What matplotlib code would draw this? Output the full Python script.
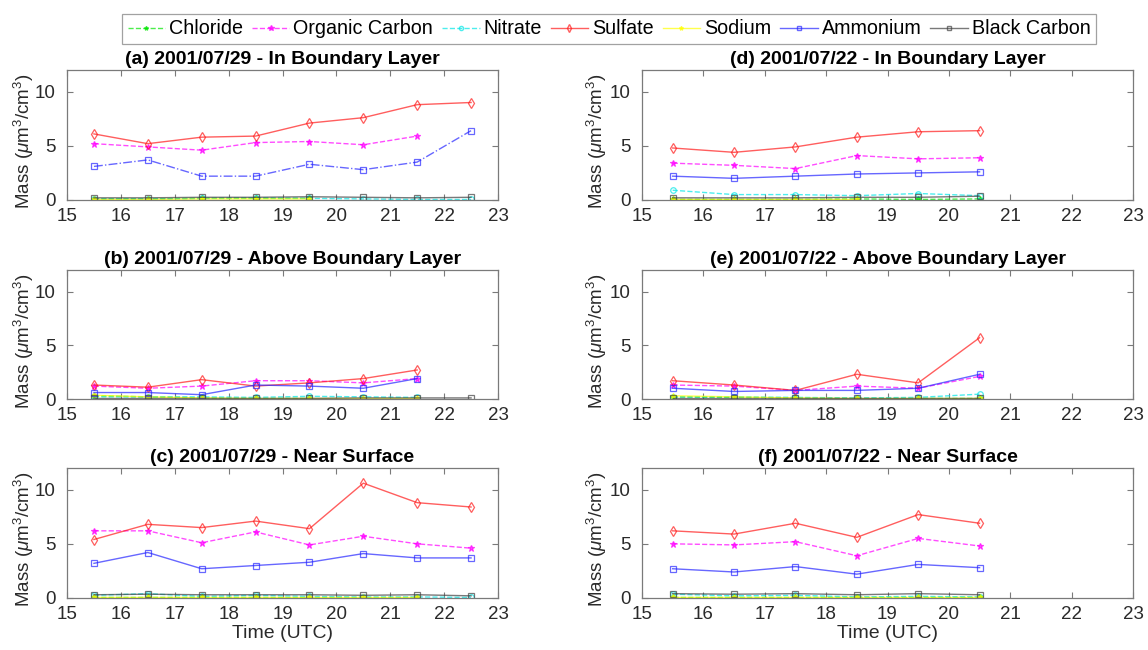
import numpy as np
import matplotlib
matplotlib.use("Agg")
import matplotlib.pyplot as plt
from matplotlib.lines import Line2D

plt.rcParams['font.family'] = ['Liberation Sans', 'DejaVu Sans']
plt.rcParams['mathtext.fontset'] = 'custom'
plt.rcParams['mathtext.rm'] = 'Liberation Sans'
plt.rcParams['mathtext.it'] = 'Liberation Sans:italic'

nan = np.nan

# Sampling times (UTC) for the two flight days
time_0729 = [15.5, 16.5, 17.5, 18.5, 19.5, 20.5, 21.5, 22.5]
time_0722 = [15.5, 16.5, 17.5, 18.5, 19.5, 20.5]

panel_titles = [
    "(a) 2001/07/29 - In Boundary Layer",
    "(b) 2001/07/29 - Above Boundary Layer",
    "(c) 2001/07/29 - Near Surface",
    "(d) 2001/07/22 - In Boundary Layer",
    "(e) 2001/07/22 - Above Boundary Layer",
    "(f) 2001/07/22 - Near Surface",
]

species = ["Chloride", "Organic Carbon", "Nitrate", "Sulfate",
           "Sodium", "Ammonium", "Black Carbon"]

# Mass concentrations per panel (a)-(f)
chloride = [
    [0.10, 0.10, 0.15, 0.15, 0.15, nan, nan, nan],
    [0.30, 0.20, 0.10, 0.05, 0.05, nan, nan, nan],
    [0.05, 0.05, 0.05, 0.05, 0.03, 0.03, 0.03, nan],
    [0.05, 0.05, 0.05, 0.10, 0.05, 0.10],
    [0.20, 0.15, 0.10, 0.05, 0.05, 0.05],
    [0.05, 0.05, 0.05, 0.05, 0.05, 0.05],
]
organic_carbon = [
    [5.2, 4.9, 4.6, 5.3, 5.4, 5.1, 5.9, nan],
    [1.2, 1.0, 1.2, 1.7, 1.7, 1.5, 1.9, nan],
    [6.2, 6.2, 5.1, 6.1, 4.9, 5.7, 5.0, 4.6],
    [3.4, 3.2, 2.9, 4.1, 3.8, 3.9],
    [1.3, 1.2, 0.8, 1.2, 1.0, 2.1],
    [5.0, 4.9, 5.2, 3.9, 5.5, 4.8],
]
nitrate = [
    [0.10, 0.10, 0.15, 0.20, 0.15, 0.10, 0.05, 0.05],
    [0.20, 0.20, 0.20, 0.15, 0.25, 0.20, 0.15, nan],
    [0.25, 0.40, 0.15, 0.25, 0.15, 0.10, 0.10, 0.05],
    [0.90, 0.50, 0.50, 0.40, 0.60, 0.40],
    [0.20, 0.20, 0.15, 0.10, 0.15, 0.45],
    [0.35, 0.20, 0.25, 0.10, 0.15, 0.10],
]
sulfate = [
    [6.1, 5.2, 5.8, 5.9, 7.1, 7.6, 8.8, 9.0],
    [1.3, 1.1, 1.8, 1.2, 1.5, 1.9, 2.7, nan],
    [5.4, 6.8, 6.5, 7.1, 6.4, 10.6, 8.8, 8.4],
    [4.8, 4.4, 4.9, 5.8, 6.3, 6.4],
    [1.7, 1.3, 0.8, 2.3, 1.5, 5.7],
    [6.2, 5.9, 6.9, 5.6, 7.7, 6.9],
]
sodium = [
    [0.05, 0.05, 0.10, 0.10, 0.10, nan, nan, nan],
    [0.35, 0.20, 0.10, 0.05, 0.05, 0.05, 0.05, nan],
    [0.08, 0.08, 0.08, 0.08, 0.08, 0.08, 0.08, nan],
    [0.10, 0.10, 0.10, 0.10, nan, nan],
    [0.30, 0.20, 0.10, 0.05, 0.05, 0.05],
    [0.10, 0.10, 0.10, 0.10, 0.10, 0.10],
]
ammonium = [
    [3.1, 3.7, 2.2, 2.2, 3.3, 2.8, 3.5, 6.4],
    [0.6, 0.6, 0.4, 1.3, 1.2, 1.0, 1.9, nan],
    [3.2, 4.2, 2.7, 3.0, 3.3, 4.1, 3.7, 3.7],
    [2.2, 2.0, 2.2, 2.4, 2.5, 2.6],
    [1.0, 0.7, 0.8, 0.8, 1.0, 2.3],
    [2.7, 2.4, 2.9, 2.2, 3.1, 2.8],
]
black_carbon = [
    [0.20, 0.20, 0.25, 0.25, 0.30, 0.25, 0.20, 0.25],
    [0.05, 0.05, 0.05, 0.05, 0.05, 0.10, 0.10, 0.10],
    [0.30, 0.35, 0.30, 0.30, 0.30, 0.25, 0.30, 0.20],
    [0.20, 0.20, 0.20, 0.25, 0.25, 0.35],
    [0.05, 0.05, 0.05, 0.05, 0.05, 0.05],
    [0.40, 0.35, 0.40, 0.30, 0.40, 0.30],
]

series = [chloride, organic_carbon, nitrate, sulfate, sodium, ammonium, black_carbon]

# Line styling for each species
styles = [
    dict(color=(0.0, 0.9, 0.0), ls='--', marker='*', ms=4, mfc=(0.0, 0.9, 0.0)),
    dict(color=(1.0, 0.0, 1.0), ls='--', marker='*', ms=5, mfc=(1.0, 0.0, 1.0)),
    dict(color=(0.0, 0.9, 0.9), ls='--', marker='o', ms=4, mfc='none'),
    dict(color=(1.0, 0.1, 0.1), ls='-', marker='d', ms=5, mfc='none'),
    dict(color=(1.0, 1.0, 0.0), ls='-', marker='*', ms=4, mfc=(1.0, 1.0, 0.0)),
    dict(color=(0.15, 0.15, 1.0), ls='-', marker='s', ms=4, mfc='none'),
    dict(color=(0.25, 0.25, 0.25), ls='-', marker='s', ms=4, mfc='none'),
]
ALPHA = 0.7

W, H = 1148, 650
fig = plt.figure(figsize=(W / 100, H / 100), dpi=100)

col_geom = [(67, 431), (642, 491)]
row_geom = [(70, 200), (270, 399), (468, 598)]
ylabel_right_px = [36, 609]
axis_col = '#7a7a7a'
text_col = '#2a2a2a'

for p in range(6):
    col, row = divmod(p, 3)
    x0, w = col_geom[col]
    top, bot = row_geom[row]
    ax = fig.add_axes([x0 / W, 1 - bot / H, w / W, (bot - top) / H])
    t = time_0729 if col == 0 else time_0722
    for k, (vals, st) in enumerate(zip(series, styles)):
        st = dict(st)
        if k == 5 and p == 0:
            st['ls'] = '-.'
        ax.plot(t, vals[p], color=st['color'], ls=st['ls'], marker=st['marker'],
                ms=st['ms'], mfc=st['mfc'], mec=st['color'], lw=1.0, mew=0.9,
                alpha=ALPHA)
    ax.set_xlim(15, 23)
    ax.set_ylim(0, 12)
    ax.set_xticks(range(15, 24))
    ax.set_yticks([0, 5, 10])
    ax.tick_params(direction='in', top=True, right=True, length=4, width=0.8,
                   colors=axis_col, labelcolor=text_col, labelsize=13.5)
    ax.tick_params(axis='x', pad=6)
    ax.tick_params(axis='y', pad=8)
    for s in ax.spines.values():
        s.set_color(axis_col)
        s.set_linewidth(0.9)
    ax.set_title(panel_titles[p], fontsize=14, fontweight='bold', pad=4)
    ax.set_ylabel('Mass ($\\mu$m$^3$/cm$^3$)', fontsize=13.5, color=text_col)
    ax.yaxis.set_label_coords((ylabel_right_px[col] - x0) / w, 0.45)
    if row == 2:
        ax.set_xlabel('Time (UTC)', fontsize=14, color=text_col, labelpad=1)

handles = [Line2D([], [], color=st['color'], ls=st['ls'], marker=st['marker'],
                  ms=st['ms'] - 1, mfc=st['mfc'], mec=st['color'], lw=1.0, alpha=ALPHA)
           for st in styles]
leg = fig.legend(handles, species, loc='center', bbox_to_anchor=(609 / W, 1 - 29 / H),
                 ncol=7, fontsize=14.2, frameon=True, fancybox=False, handlelength=1.9,
                 handletextpad=0.2, columnspacing=0.45, borderpad=0.3,
                 borderaxespad=0)
leg.get_frame().set_edgecolor('#8a8a8a')
leg.get_frame().set_linewidth(0.9)

fig.savefig('out.png', dpi=100)
